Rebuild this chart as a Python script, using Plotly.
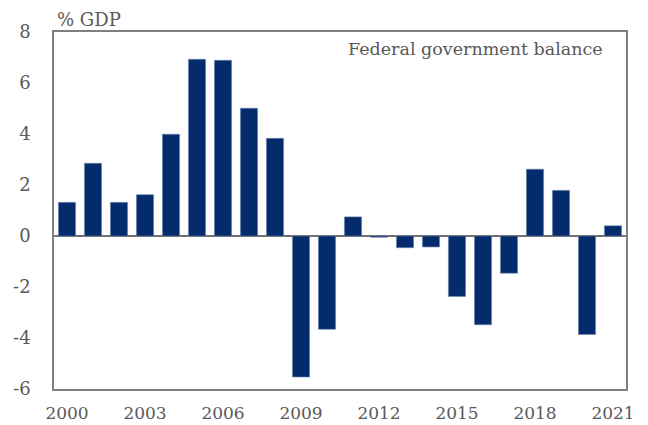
import plotly.graph_objects as go

years = list(range(2000, 2022))
balance = [1.32, 2.85, 1.32, 1.62, 3.99, 6.93, 6.89, 5.01, 3.83, -5.53, -3.66,
           0.75, -0.05, -0.46, -0.43, -2.37, -3.48, -1.46, 2.62, 1.79, -3.86, 0.40]
xtick_vals = [2000, 2003, 2006, 2009, 2012, 2015, 2018, 2021]
ytick_vals = [-6, -4, -2, 0, 2, 4, 6, 8]

FONT = "DejaVu Serif"
GRAY = "#595959"

fig = go.Figure(go.Bar(
    x=years, y=balance,
    marker=dict(color="#042b6b", line=dict(color="#6f88b3", width=0.6)),
    width=0.66,
))

fig.update_layout(
    template="none",
    width=640, height=417,
    margin=dict(l=46, r=22, t=24, b=36),
    plot_bgcolor="white", paper_bgcolor="white",
    showlegend=False,
    font=dict(family=FONT, size=17, color=GRAY),
    xaxis=dict(
        automargin=False,
        range=[1999.5, 2021.5], tickvals=xtick_vals,
        ticktext=[str(v) for v in xtick_vals],
        showgrid=False, showline=True, mirror=True,
        linecolor="#808080", linewidth=1.5, ticks="",
        ticklabelstandoff=8,
        tickfont=dict(family=FONT, size=17, color=GRAY),
    ),
    yaxis=dict(
        automargin=False,
        range=[-6, 8], tickvals=ytick_vals,
        ticktext=[str(v) for v in ytick_vals],
        showgrid=False, showline=True, mirror=True,
        linecolor="#808080", linewidth=1.5, ticks="",
        zeroline=True, zerolinecolor="#707070", zerolinewidth=1.5,
        ticklabelstandoff=18,
        tickfont=dict(family=FONT, size=18, color=GRAY),
    ),
    annotations=[
        dict(text="% GDP", xref="paper", yref="paper", x=0.002, y=1.0,
             xanchor="left", yanchor="bottom", showarrow=False,
             font=dict(family=FONT, size=18, color=GRAY)),
        dict(text="Federal government balance", xref="paper", yref="paper",
             x=0.964, y=0.985, xanchor="right", yanchor="top", showarrow=False,
             font=dict(family=FONT, size=17.5, color=GRAY)),
    ],
)

fig.write_html("out.html")
